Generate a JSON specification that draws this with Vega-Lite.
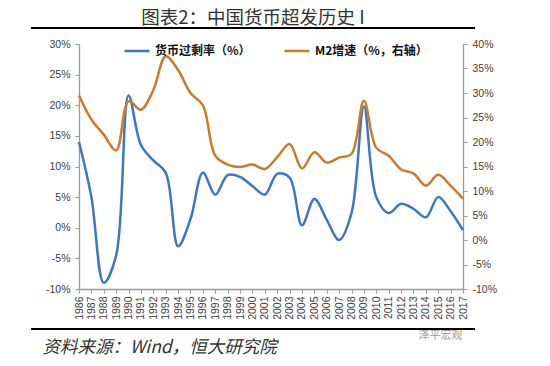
{
  "$schema": "https://vega.github.io/schema/vega-lite/v6.json",
  "width": 384,
  "height": 245,
  "autosize": {"type": "none"},
  "padding": {"left": 79, "top": 44, "right": 87, "bottom": 77},
  "background": "white",
  "title": {"text": "图表2：中国货币超发历史 I", "font": "Noto Sans CJK SC", "fontSize": 18.5, "fontWeight": "normal", "color": "#333333", "anchor": "middle", "frame": "group", "dx": -18, "offset": 0},
  "config": {
    "view": {"stroke": null},
    "axis": {"labelFont": "Liberation Sans", "labelFontSize": 10.5, "labelColor": "#404040", "domainColor": "#9a9a9a", "tickColor": "#9a9a9a", "grid": false, "tickSize": 4, "domainWidth": 1.3}
  },
  "data": {"values": [
    {"year": 1986, "excess": 14.0, "m2": 29.5},
    {"year": 1987, "excess": 5.0, "m2": 24.6},
    {"year": 1988, "excess": -9.0, "m2": 21.5},
    {"year": 1989, "excess": -4.5, "m2": 18.3},
    {"year": 1990, "excess": 21.6, "m2": 28.3},
    {"year": 1991, "excess": 13.5, "m2": 26.6},
    {"year": 1992, "excess": 11.0, "m2": 30.6},
    {"year": 1993, "excess": 9.0, "m2": 37.5},
    {"year": 1994, "excess": -3.0, "m2": 34.7},
    {"year": 1995, "excess": 1.4, "m2": 30.0},
    {"year": 1996, "excess": 9.0, "m2": 27.5},
    {"year": 1997, "excess": 5.4, "m2": 17.2},
    {"year": 1998, "excess": 8.6, "m2": 15.4},
    {"year": 1999, "excess": 8.3, "m2": 14.9},
    {"year": 2000, "excess": 6.8, "m2": 15.4},
    {"year": 2001, "excess": 5.4, "m2": 14.5},
    {"year": 2002, "excess": 8.8, "m2": 16.9},
    {"year": 2003, "excess": 8.2, "m2": 19.6},
    {"year": 2004, "excess": 0.4, "m2": 14.6},
    {"year": 2005, "excess": 4.7, "m2": 17.9},
    {"year": 2006, "excess": 1.3, "m2": 15.8},
    {"year": 2007, "excess": -2.0, "m2": 16.8},
    {"year": 2008, "excess": 2.4, "m2": 17.6},
    {"year": 2009, "excess": 19.8, "m2": 28.4},
    {"year": 2010, "excess": 5.0, "m2": 18.8},
    {"year": 2011, "excess": 2.4, "m2": 17.2},
    {"year": 2012, "excess": 3.9, "m2": 14.4},
    {"year": 2013, "excess": 3.1, "m2": 13.6},
    {"year": 2014, "excess": 1.7, "m2": 11.1},
    {"year": 2015, "excess": 5.0, "m2": 13.3},
    {"year": 2016, "excess": 2.7, "m2": 11.1},
    {"year": 2017, "excess": -0.4, "m2": 8.4}
  ]},
  "layer": [
    {
      "mark": {"type": "line", "interpolate": "catmull-rom", "strokeWidth": 2.5},
      "encoding": {
        "x": {"field": "year", "type": "quantitative", "scale": {"domain": [1986, 2017], "nice": false, "zero": false},
          "axis": {"values": [1986,1987,1988,1989,1990,1991,1992,1993,1994,1995,1996,1997,1998,1999,2000,2001,2002,2003,2004,2005,2006,2007,2008,2009,2010,2011,2012,2013,2014,2015,2016,2017],
            "format": "d", "labelAngle": -90, "labelAlign": "right", "labelBaseline": "middle", "labelPadding": 3, "labelOverlap": false, "labelFlush": false,
            "title": "资料来源：Wind，恒大研究院", "titleFont": "Noto Sans CJK SC", "titleFontSize": 17.5, "titleFontStyle": "italic", "titleFontWeight": "normal", "titleColor": "#333333", "titleAlign": "left", "titleBaseline": "middle", "titleAnchor": "start", "titleX": -37, "titleY": 58}},
        "y": {"field": "excess", "type": "quantitative", "scale": {"domain": [-10, 30], "nice": false},
          "axis": {"values": [-10,-5,0,5,10,15,20,25,30], "labelExpr": "datum.value + '%'", "title": null, "labelPadding": 5, "labelOverlap": false}},
        "color": {"datum": "货币过剩率（%）", "type": "nominal",
          "scale": {"domain": ["货币过剩率（%）", "M2增速（%，右轴）"], "range": ["#3d76c3", "#cc7a2b"]},
          "legend": {"orient": "none", "direction": "horizontal", "legendX": 44, "legendY": -7, "title": null, "symbolType": "stroke", "symbolSize": 625, "symbolStrokeWidth": 2.5, "labelFont": "Noto Sans CJK SC", "labelFontSize": 12, "labelFontWeight": "bold", "labelColor": "#111111", "columnPadding": 28, "labelOffset": 4}}
      }
    },
    {
      "mark": {"type": "line", "interpolate": "catmull-rom", "strokeWidth": 2.5},
      "encoding": {
        "x": {"field": "year", "type": "quantitative", "scale": {"domain": [1986, 2017], "nice": false, "zero": false}, "axis": null},
        "y": {"field": "m2", "type": "quantitative", "scale": {"domain": [-10, 40], "nice": false},
          "axis": {"orient": "right", "values": [-10,-5,0,5,10,15,20,25,30,35,40], "labelExpr": "datum.value + '%'", "labelPadding": 5, "labelOverlap": false,
            "title": "泽平宏观", "titleAngle": 0, "titleX": -45, "titleY": 291, "titleAlign": "left", "titleBaseline": "middle", "titleColor": "#9a9a9a", "titleFont": "Noto Sans CJK SC", "titleFontSize": 11, "titleFontWeight": "normal"}},
        "color": {"datum": "M2增速（%，右轴）", "type": "nominal"}
      }
    },
    {
      "data": {"values": [{"k": 1}]},
      "mark": {"type": "rule", "color": "#000000", "strokeWidth": 2},
      "encoding": {
        "x": {"datum": 1982.13, "type": "quantitative", "scale": {"domain": [1986, 2017], "nice": false, "zero": false}, "axis": null},
        "x2": {"datum": 2017.97},
        "y": {"datum": 32.6, "type": "quantitative", "scale": {"domain": [-10, 30], "nice": false, "zero": false}, "axis": null}
      }
    },
    {
      "data": {"values": [{"k": 1}]},
      "mark": {"type": "rule", "color": "#000000", "strokeWidth": 2},
      "encoding": {
        "x": {"datum": 1982.13, "type": "quantitative", "scale": {"domain": [1986, 2017], "nice": false, "zero": false}, "axis": null},
        "x2": {"datum": 2017.97},
        "y": {"datum": -16.53, "type": "quantitative", "scale": {"domain": [-10, 30], "nice": false, "zero": false}, "axis": null}
      }
    }
  ],
  "resolve": {"scale": {"x": "independent", "y": "independent"}}
}
